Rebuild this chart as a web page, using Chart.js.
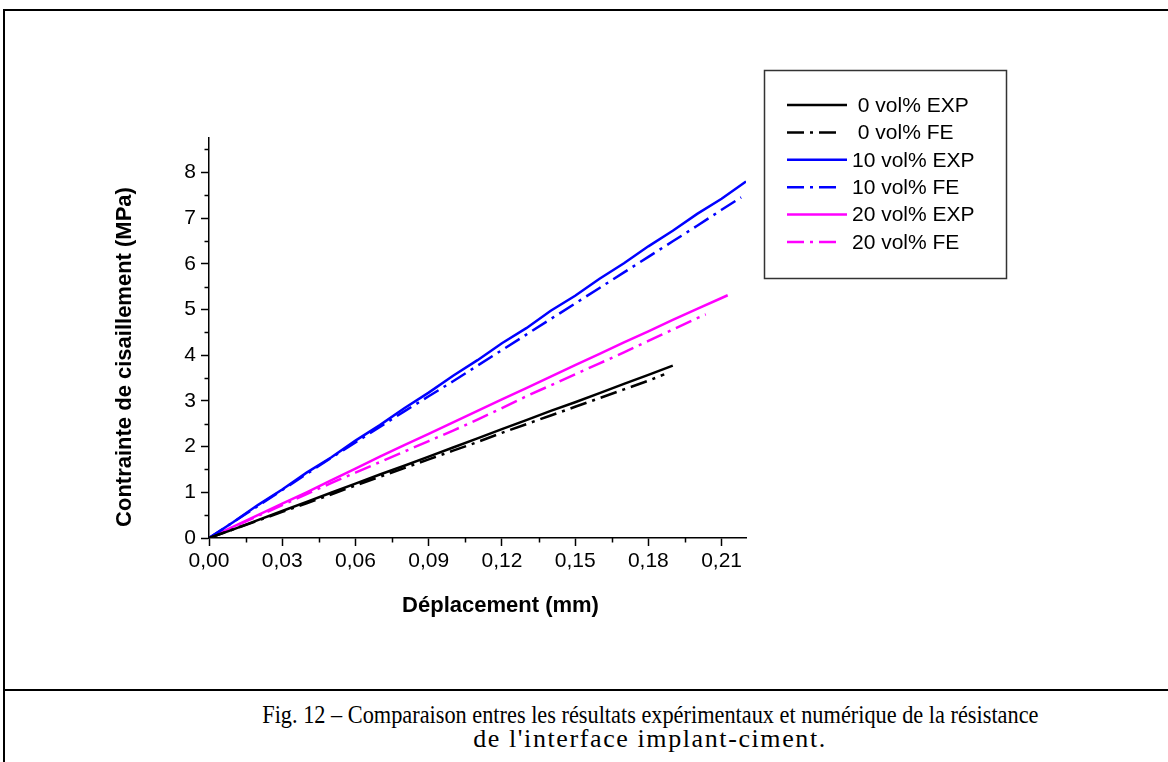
<!DOCTYPE html>
<html>
<head>
<meta charset="utf-8">
<script src="https://cdn.jsdelivr.net/npm/chart.js@4.4.1/dist/chart.umd.min.js"></script>
<style>
body { margin: 0; background: #fff; width: 1168px; height: 762px; overflow: hidden; position: relative; }
#frame { position: absolute; left: 3px; top: 9px; width: 1300px; height: 800px; border-left: 2px solid #000; border-top: 2px solid #000; }
#sep { position: absolute; left: 3px; top: 689px; width: 1300px; height: 2px; background: #000; }
#caption { position: absolute; left: 50px; width: 1200px; top: 703px; text-align: center;
  font-family: "Liberation Serif", "Times New Roman", serif; font-size: 26px; line-height: 24px; }
#caption .l1 { display: inline-block; transform: scaleX(0.858); transform-origin: center; white-space: nowrap; }
#caption .l2 { letter-spacing: 1.6px; }
#myChart { position: absolute; left: 0; top: 0; }
</style>
</head>
<body>
<div id="frame"></div>
<div id="sep"></div>
<canvas id="myChart" width="1168" height="688"></canvas>
<div id="caption"><span class="l1">Fig. 12 – Comparaison entres les résultats expérimentaux et numérique de la résistance</span><div class="l2">de l'interface implant-ciment.</div></div>
<script>
// values (displacement in mm, stress in MPa)
var x0exp = [0, 0.01, 0.02, 0.03, 0.04, 0.05, 0.06, 0.07, 0.08, 0.09, 0.10, 0.11, 0.12, 0.13, 0.14, 0.15, 0.16, 0.17, 0.18, 0.19];
var y0exp = [0, 0.19, 0.39, 0.59, 0.79, 0.99, 1.19, 1.39, 1.58, 1.78, 1.98, 2.18, 2.38, 2.58, 2.78, 2.97, 3.17, 3.37, 3.57, 3.77];
var x0fe = [0, 0.01, 0.02, 0.03, 0.04, 0.05, 0.06, 0.07, 0.08, 0.09, 0.10, 0.11, 0.12, 0.13, 0.14, 0.15, 0.16, 0.17, 0.18, 0.1865];
var y0fe = [0, 0.19, 0.38, 0.57, 0.76, 0.95, 1.15, 1.34, 1.53, 1.72, 1.91, 2.10, 2.30, 2.49, 2.68, 2.87, 3.06, 3.25, 3.44, 3.58];

var x10exp = [0, 0.01, 0.02, 0.03, 0.04, 0.05, 0.06, 0.07, 0.08, 0.09, 0.10, 0.11, 0.12, 0.13, 0.14, 0.15, 0.16, 0.17, 0.18, 0.19, 0.20, 0.21, 0.22];
var y10exp = [0, 0.35, 0.72, 1.06, 1.43, 1.76, 2.13, 2.47, 2.84, 3.18, 3.55, 3.89, 4.26, 4.59, 4.97, 5.30, 5.67, 6.01, 6.38, 6.72, 7.09, 7.42, 7.80];
var x10fe = [0, 0.01, 0.02, 0.03, 0.04, 0.05, 0.06, 0.07, 0.08, 0.09, 0.10, 0.11, 0.12, 0.13, 0.14, 0.15, 0.16, 0.17, 0.18, 0.19, 0.20, 0.21, 0.218];
var y10fe = [0, 0.35, 0.70, 1.05, 1.40, 1.75, 2.09, 2.43, 2.77, 3.10, 3.43, 3.77, 4.11, 4.45, 4.79, 5.13, 5.47, 5.81, 6.15, 6.49, 6.83, 7.18, 7.45];

var x20exp = [0, 0.01, 0.02, 0.03, 0.04, 0.05, 0.06, 0.07, 0.08, 0.09, 0.10, 0.11, 0.12, 0.13, 0.14, 0.15, 0.16, 0.17, 0.18, 0.19, 0.20, 0.21, 0.2125];
var y20exp = [0, 0.25, 0.50, 0.75, 1.00, 1.26, 1.52, 1.78, 2.03, 2.28, 2.53, 2.78, 3.03, 3.28, 3.53, 3.78, 4.03, 4.28, 4.52, 4.77, 5.01, 5.25, 5.31];
var x20fe = [0, 0.01, 0.02, 0.03, 0.04, 0.05, 0.06, 0.07, 0.08, 0.09, 0.10, 0.11, 0.12, 0.13, 0.14, 0.15, 0.16, 0.17, 0.18, 0.19, 0.20, 0.2035];
var y20fe = [0, 0.24, 0.48, 0.72, 0.96, 1.20, 1.43, 1.66, 1.89, 2.12, 2.35, 2.59, 2.84, 3.10, 3.34, 3.58, 3.82, 4.06, 4.31, 4.56, 4.81, 4.89];

var seriesLabels = [' 0 vol% EXP', ' 0 vol% FE', '10 vol% EXP', '10 vol% FE', '20 vol% EXP', '20 vol% FE'];

var xTitle = 'Déplacement (mm)';
var yTitle = 'Contrainte de cisaillement (MPa)';

var dashDot = [17, 6, 3, 6];

function points(xs, ys) {
    return xs.map(function (x, i) { return { x: x, y: ys[i] }; });
}

function makeSet(label, xs, ys, color, dashed) {
    return {
        label: label,
        data: points(xs, ys),
        borderColor: color,
        backgroundColor: color,
        borderWidth: 2.5,
        borderDash: dashed ? dashDot : undefined,
        pointRadius: 0,
        tension: 0,
        fill: false
    };
}

// minor ticks + axis titles (Chart.js has no minor ticks)
const axisExtras = {
    id: 'axisExtras',
    afterDraw(chart) {
        const ctx = chart.ctx;
        const xs = chart.scales.x, ys = chart.scales.y;
        const a = chart.chartArea;
        ctx.save();
        ctx.strokeStyle = '#000';
        ctx.lineWidth = 1.5;
        ctx.beginPath();
        for (let v = 0.5; v < 8.75; v += 1) {
            const py = Math.round(ys.getPixelForValue(v)) + 0.5;
            ctx.moveTo(a.left, py);
            ctx.lineTo(a.left - 4.5, py);
        }
        for (let k = 0; k < 7; k++) {
            const px = Math.round(xs.getPixelForValue(0.015 + k * 0.03)) + 0.5;
            ctx.moveTo(px, a.bottom);
            ctx.lineTo(px, a.bottom + 4.5);
        }
        ctx.stroke();

        ctx.fillStyle = '#000';
        ctx.font = 'bold 22px "Liberation Sans", Arial, sans-serif';
        ctx.textAlign = 'center';
        ctx.textBaseline = 'middle';
        ctx.fillText(xTitle, (a.left + a.right) / 2 + 23, a.bottom + 68);
        ctx.translate(a.left - 84, (a.top + a.bottom) / 2 + 19);
        ctx.rotate(-Math.PI / 2);
        ctx.fillText(yTitle, 0, 0);
        ctx.restore();
    }
};

const legendBox = {
    id: 'legendBox',
    afterDraw(chart) {
        const ctx = chart.ctx;
        ctx.save();
        ctx.strokeStyle = '#333';
        ctx.lineWidth = 1.5;
        ctx.strokeRect(764.5, 70.5, 242, 208);
        chart.data.datasets.forEach(function (ds, i) {
            const y = 105 + i * 27.4;
            ctx.beginPath();
            ctx.setLineDash(ds.borderDash || []);
            ctx.strokeStyle = ds.borderColor;
            ctx.lineWidth = ds.borderWidth;
            ctx.moveTo(787, y);
            ctx.lineTo(ds.borderDash ? 837 : 847, y);
            ctx.stroke();
            ctx.setLineDash([]);
            ctx.fillStyle = '#000';
            ctx.font = '21px "Liberation Sans", Arial, sans-serif';
            ctx.textBaseline = 'middle';
            ctx.fillText(ds.label, 852, y + 1);
        });
        ctx.restore();
    }
};

var ctx = document.getElementById('myChart').getContext('2d');
var myChart = new Chart(ctx, {
    type: 'line',
    data: {
        datasets: [
            makeSet(seriesLabels[0], x0exp, y0exp, '#000000', false),
            makeSet(seriesLabels[1], x0fe, y0fe, '#000000', true),
            makeSet(seriesLabels[2], x10exp, y10exp, '#0000ff', false),
            makeSet(seriesLabels[3], x10fe, y10fe, '#0000ff', true),
            makeSet(seriesLabels[4], x20exp, y20exp, '#ff00ff', false),
            makeSet(seriesLabels[5], x20fe, y20fe, '#ff00ff', true)
        ]
    },
    options: {
        responsive: false,
        animation: false,
        layout: { padding: { left: 109, right: 422, top: 138, bottom: 50 } },
        plugins: { legend: { display: false }, tooltip: { enabled: false } },
        scales: {
            x: {
                type: 'linear',
                min: 0,
                max: 0.22,
                afterFit: function (s) { s.height = 100; },
                border: { color: '#000', width: 1.5 },
                grid: { drawOnChartArea: false, color: '#000', tickLength: 8, tickWidth: 1.5 },
                ticks: {
                    stepSize: 0.03,
                    includeBounds: false,
                    color: '#000',
                    padding: 3,
                    maxRotation: 0,
                    font: { family: '"Liberation Sans", Arial, sans-serif', size: 21 },
                    callback: function (v) { return v.toFixed(2).replace('.', ','); }
                }
            },
            y: {
                type: 'linear',
                min: 0,
                max: 8.75,
                afterFit: function (s) { s.width = 100; },
                border: { color: '#000', width: 1.5 },
                grid: { drawOnChartArea: false, color: '#000', tickLength: 8, tickWidth: 1.5 },
                ticks: {
                    stepSize: 1,
                    includeBounds: false,
                    color: '#000',
                    padding: 5,
                    font: { family: '"Liberation Sans", Arial, sans-serif', size: 21 }
                }
            }
        }
    },
    plugins: [axisExtras, legendBox]
});
</script>
</body>
</html>
